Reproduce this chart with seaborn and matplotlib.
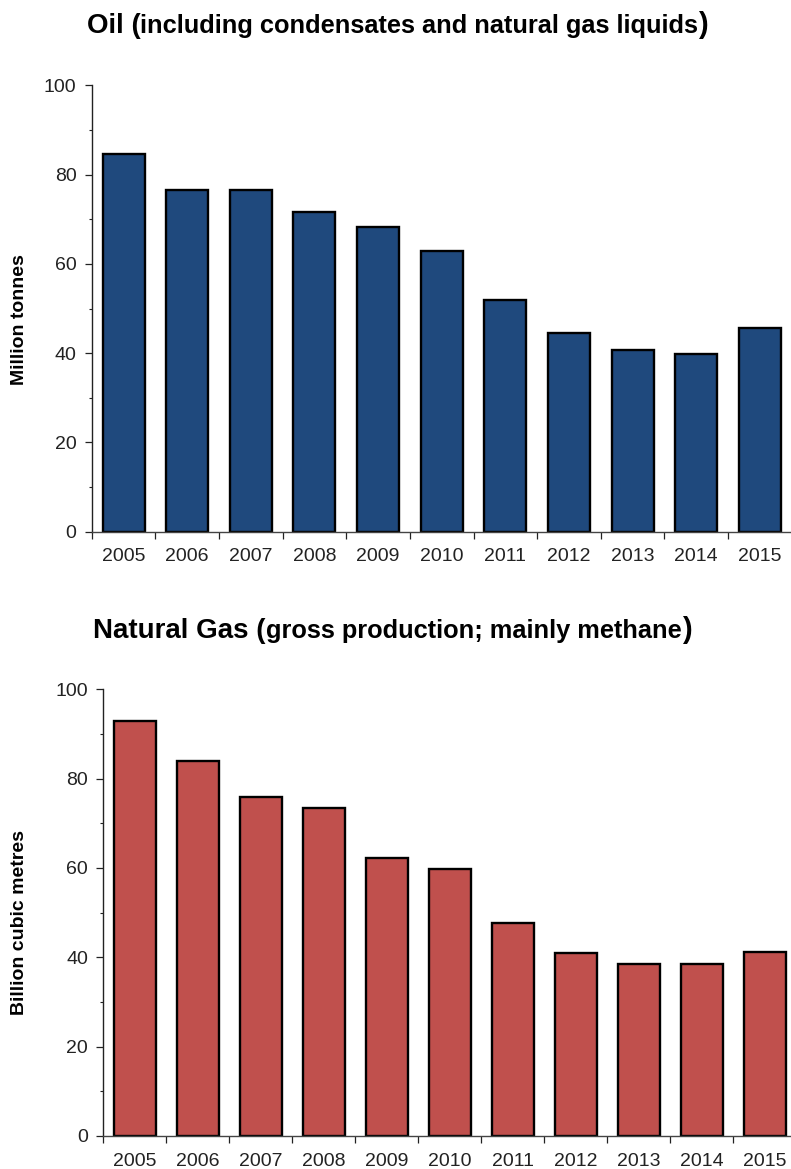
import numpy as np
import pandas as pd
import seaborn as sns
import matplotlib.pyplot as plt

years = ["2005", "2006", "2007", "2008", "2009", "2010", "2011", "2012", "2013", "2014", "2015"]
oil = [84.6, 76.6, 76.6, 71.6, 68.2, 62.9, 51.9, 44.5, 40.6, 39.8, 45.6]
gas = [92.8, 83.9, 75.8, 73.5, 62.3, 59.8, 47.6, 40.9, 38.4, 38.6, 41.1]

oil_color = "#1F497D"
gas_color = "#C0504D"

sns.set_style("white")
plt.rcParams["font.family"] = ["Liberation Sans", "DejaVu Sans"]

W, H = 791, 1169
fig = plt.figure(figsize=(W / 100, H / 100), dpi=100)

# axes placed in pixel terms: left, top(100), width, height
ax1 = fig.add_axes([91.7 / W, 1 - 531.7 / H, 700 / W, 446.4 / H])
ax2 = fig.add_axes([103.3 / W, 1 - 1136 / H, 693 / W, 446.7 / H])

df_oil = pd.DataFrame({"year": years, "value": oil})
df_gas = pd.DataFrame({"year": years, "value": gas})

sns.barplot(data=df_oil, x="year", y="value", color=oil_color, saturation=1,
            edgecolor="black", linewidth=1.7, width=0.66, ax=ax1)
sns.barplot(data=df_gas, x="year", y="value", color=gas_color, saturation=1,
            edgecolor="black", linewidth=1.7, width=0.66, ax=ax2)

for ax, label, lx, ly in [(ax1, "Million tonnes", -0.091, 0.476),
                          (ax2, "Billion cubic metres", -0.1087, 0.479)]:
    ax.set_xlim(-0.5, 10.5)
    ax.set_ylim(0, 100)
    sns.despine(ax=ax)
    ax.spines["left"].set_color("#222222")
    ax.spines["bottom"].set_color("#444444")
    ax.spines["left"].set_linewidth(1.0)
    ax.spines["bottom"].set_linewidth(1.0)
    ax.set_yticks(range(0, 101, 20))
    ax.set_yticks([10, 30, 50, 70, 90], minor=True)
    ax.set_xticks(np.arange(-0.5, 11, 1), minor=True)
    ax.tick_params(axis="y", which="major", direction="out", length=5, width=0.9,
                   color="#222222", pad=6, labelsize=14, labelcolor="#222222", left=True)
    ax.tick_params(axis="y", which="minor", direction="out", length=2.5, width=0.8,
                   color="#222222", left=True)
    ax.tick_params(axis="x", which="major", length=0, pad=12, labelsize=14,
                   labelcolor="#222222")
    ax.tick_params(axis="x", which="minor", direction="out", length=5, width=0.9,
                   color="#222222", bottom=True)
    ax.set_xlabel("")
    ax.set_ylabel(label, fontsize=14, fontweight="bold", color="black")
    ax.yaxis.set_label_coords(lx, ly)


def title(x_px, base_px, parts):
    renderer = fig.canvas.get_renderer()
    for text, size in parts:
        t = fig.text(x_px / W, 1 - base_px / H, text, fontsize=size, fontweight="bold",
                     ha="left", va="baseline", color="black")
        x_px = t.get_window_extent(renderer).x1


title(86.7, 33, [("Oil (", 20),
                 ("including condensates and natural gas liquids", 18.3),
                 (")", 21)])
title(93.3, 637.7, [("Natural Gas (", 20),
                    ("gross production; mainly methane", 18.3),
                    (")", 21)])

fig.savefig("out.png", dpi=100)
